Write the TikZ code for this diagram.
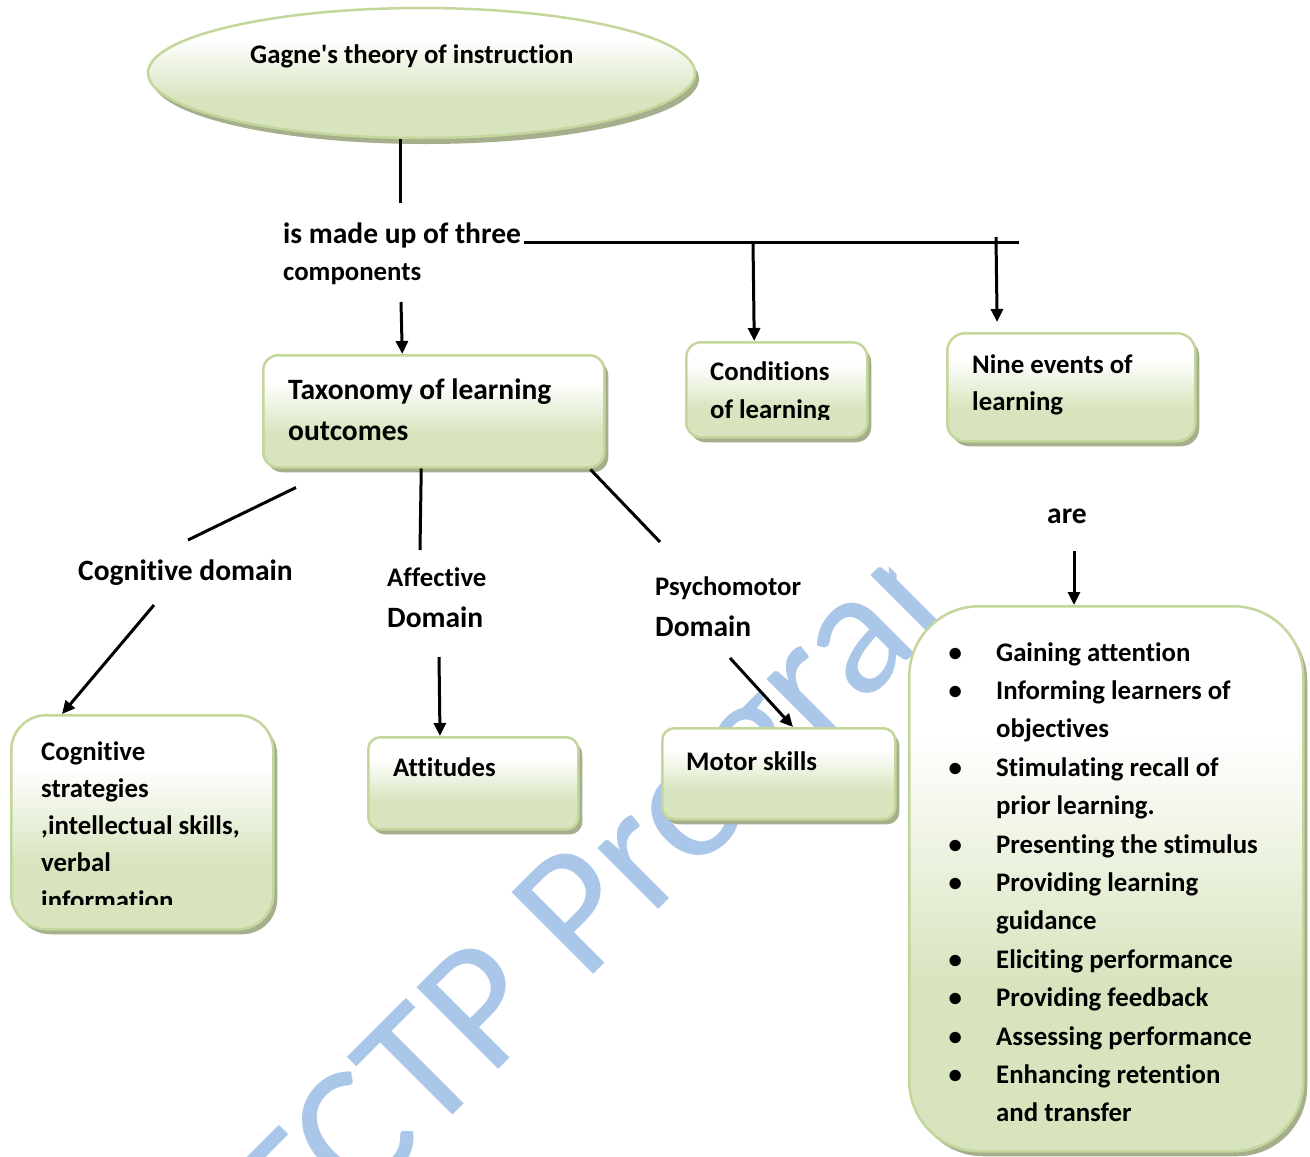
\documentclass[tikz,border=0pt]{standalone}
\usepackage{fontspec}
\setmainfont{Carlito}[Ligatures={NoCommon}]
\usetikzlibrary{arrows.meta,shadows,shapes.geometric}
\definecolor{bgreen}{RGB}{215,228,189}
\definecolor{bborder}{RGB}{195,214,155}
\definecolor{bshadow}{RGB}{165,175,140}
\definecolor{wmark}{RGB}{170,198,232}
\pgfdeclareverticalshading{boxshade}{100bp}{color(0bp)=(bgreen); color(25bp)=(bgreen); color(40bp)=(bgreen); color(63bp)=(white); color(100bp)=(white)}
\newcommand\setfs[2]{\fontsize{#1}{#2}\selectfont\bfseries}
\newcommand\bul{\makebox[41pt][l]{\makebox[0pt][c]{\textbullet}}}
\newcommand\nob{\makebox[41pt]{}}
\begin{document}
\begin{tikzpicture}[x=1pt,y=-1pt,
  box/.style={draw=bborder, line width=2.5pt, rounded corners=#1, shading=boxshade,
    drop shadow={shadow xshift=4pt,shadow yshift=-5pt,fill=bshadow,opacity=1},
    inner sep=0pt, anchor=north west},
  box/.default=15pt,
  txt/.style={inner sep=0pt, anchor=base west, font=\setfs{26.8}{38}},
  conn/.style={line width=3pt},
  arr/.style={line width=3pt, -{Triangle[length=13pt,width=12pt]}},
  wm/.style={inner sep=0pt, text=wmark, font=\fontsize{180}{200}\selectfont}
  ]
\useasboundingbox (0,0) rectangle (1310,1157);
\fill[white] (0,0) rectangle (1310,1157);

% watermark
\begin{scope}
  \clip (-500,-822) -- (2500,2178) -- (-500,2178) -- cycle;
  \node[wm, rotate=45, anchor=base west] (wmk) at (300,1268) {TCTP Program};
\end{scope}

% title ellipse
\node[draw=bborder, line width=2.5pt, ellipse, shading=boxshade,
  drop shadow={shadow xshift=4pt,shadow yshift=-6pt,fill=bshadow,opacity=1},
  minimum width=547pt, minimum height=130pt, inner sep=0pt] (gag) at (421.5,73) {};
\node[txt] (gagt) at (250,63) {Gagne\textquotesingle s theory of instruction};

% boxes
\node[box=15pt, minimum width=341pt, minimum height=112pt] (tax) at (262,354) {};
\node[txt, font=\setfs{29.5}{41}] (taxt) at (288,399) {\begin{tabular}[t]{@{}l@{}}Taxonomy of learning\\outcomes\end{tabular}};

\node[box=15pt, minimum width=181pt, minimum height=95pt] (cond) at (685,341) {};
\begin{scope}
  \clip (685,341) rectangle (866,419);
  \node[txt] (condt) at (710,380) {\begin{tabular}[t]{@{}l@{}}Conditions\\of learning\end{tabular}};
\end{scope}

\node[box=18pt, minimum width=248pt, minimum height=108pt] (nine) at (946,332) {};
\node[txt, font=\setfs{26.8}{37}] (ninet) at (972,373) {\begin{tabular}[t]{@{}l@{}}Nine events of\\learning\end{tabular}};

\node[box=35pt, minimum width=262pt, minimum height=214pt] (cogb) at (10,714) {};
\begin{scope}
  \clip (10,714) rectangle (272,904);
  \node[txt, font=\setfs{26.8}{37.3}] (cogbt) at (41,760) {\begin{tabular}[t]{@{}l@{}}Cognitive\\strategies\\,intellectual skills,\\verbal\\information\end{tabular}};
\end{scope}

\node[box=12pt, minimum width=210pt, minimum height=92pt] (att) at (367,736) {};
\node[txt] (attt) at (393,776) {Attitudes};

\node[box=12pt, minimum width=233pt, minimum height=91pt] (mot) at (661,727) {};
\node[txt] (mott) at (686,770) {Motor skills};

\node[box=70pt, minimum width=394pt, minimum height=545pt] (list) at (908,605) {};
\node[txt, font=\setfs{26.8}{38.4}] (listt) at (955,661) {\begin{tabular}[t]{@{}l@{}}
\bul Gaining attention\\
\bul Informing learners of\\
\nob objectives\\
\bul Stimulating recall of\\
\nob prior learning.\\
\bul Presenting the stimulus\\
\bul Providing learning\\
\nob guidance\\
\bul Eliciting performance\\
\bul Providing feedback\\
\bul Assessing performance\\
\bul Enhancing retention\\
\nob and transfer
\end{tabular}};

% labels
\node[txt, font=\setfs{26.8}{37}] (made) at (283,243) {\begin{tabular}[t]{@{}l@{}}{\setfs{29.5}{37}is made up of three}\\components\end{tabular}};
\node[txt, font=\setfs{29.5}{40}] (cogd) at (78,580) {Cognitive domain};
\node[txt, font=\setfs{26.8}{41}] (aff) at (387,586) {\begin{tabular}[t]{@{}l@{}}Affective\\{\setfs{29.5}{41}Domain}\end{tabular}};
\node[txt, font=\setfs{26.8}{41}] (psy) at (655,595) {\begin{tabular}[t]{@{}l@{}}Psychomotor\\{\setfs{29.5}{41}Domain}\end{tabular}};
\node[txt, font=\setfs{29.5}{40}] (are) at (1047,523) {are};

% connectors
\coordinate (c1) at (400,203);
\draw[conn] ([xshift=-21.5pt]gag.south) -- (c1);
\coordinate (h1) at (524,242);
\coordinate (h2) at (1019,242);
\draw[conn] (h1) -- (h2);
\coordinate (j1) at (753,242);
\draw[arr] (j1) -- ([xshift=-22.5pt]cond.north);
\coordinate (j2) at (996,237);
\draw[arr, shorten >=10pt] (j2) -- ([xshift=-74pt]nine.north);
\coordinate (c2) at (401,302);
\draw[arr] (c2) -- ([xshift=-31.5pt]tax.north);

\coordinate (d1) at (188,540);
\draw[conn] ([shift={(34,19)}]tax.south west) -- (d1);
\coordinate (d2) at (420,550);
\draw[conn] ([xshift=-12.5pt]tax.south) -- (d2);
\coordinate (d3) at (660,542);
\draw[conn] ([shift={(-15,1)}]tax.south east) -- (d3);

\coordinate (e1) at (154,605);
\draw[arr] (e1) -- ([xshift=52pt]cogb.north west);
\coordinate (e2) at (439,657);
\draw[arr] (e2) -- ([xshift=73pt]att.north west);
\coordinate (e3) at (730,658);
\draw[arr] (e3) -- ([xshift=132pt]mot.north west);
\coordinate (e4) at (1074,551);
\draw[arr] (e4) -- ([xshift=166pt]list.north west);
\end{tikzpicture}
\end{document}
